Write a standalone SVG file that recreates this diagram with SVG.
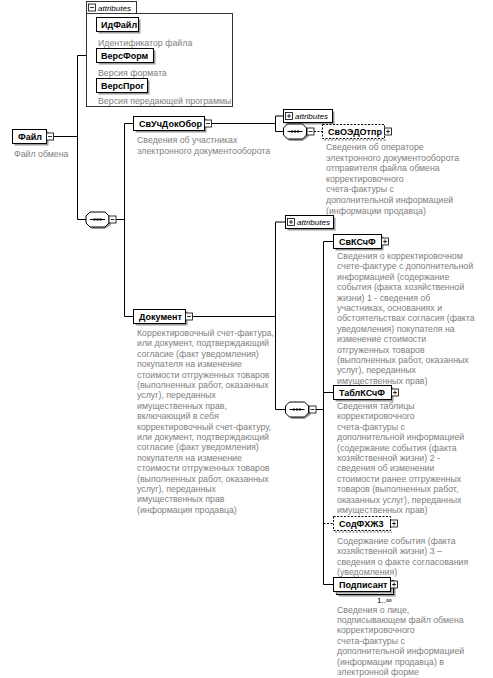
<svg xmlns="http://www.w3.org/2000/svg" xmlns:xlink="http://www.w3.org/1999/xlink" width="493" height="678" viewBox="0 0 493 678">
<style>
.bg{fill:#fff}
.box{fill:#fff;stroke:#000;stroke-width:1}
.dbox{fill:#fff;stroke:#000;stroke-width:1;stroke-dasharray:2,1.5}
.sh{fill:#9a9a9a}
.lbl{font-family:"Liberation Sans",Arial,sans-serif;font-size:9px;font-weight:bold;fill:#000}
.desc{font-family:"Liberation Sans",Arial,sans-serif;font-size:8.8px;fill:#808080}
.att{font-family:"Liberation Sans",Arial,sans-serif;font-size:8px;font-style:italic;fill:#000}
.occ{font-family:"Liberation Sans",Arial,sans-serif;font-size:8px;fill:#000}
.conn{stroke:#000;stroke-width:1;fill:none}
.dconn{stroke:#000;stroke-width:1;fill:none;stroke-dasharray:2,1.5}
.cont{fill:none;stroke:#333;stroke-width:1}
</style>
<defs>
<g id="mi"><rect x="-3.5" y="-3.5" width="7" height="7" fill="#fff" stroke="#000" stroke-width="0.8"/><line x1="-2" y1="0" x2="2" y2="0" stroke="#000" stroke-width="0.8"/></g>
<g id="pl"><rect x="-3.5" y="-3.5" width="7" height="7" fill="#fff" stroke="#000" stroke-width="0.8"/><line x1="-2" y1="0" x2="2" y2="0" stroke="#000" stroke-width="0.8"/><line x1="0" y1="-2" x2="0" y2="2" stroke="#000" stroke-width="0.8"/></g>
<g id="seq">
<path d="M6,2 L19,2 L25,6 L25,13 L19,17 L6,17 L2,13 L2,6 Z" fill="#9a9a9a"/>
<path d="M4,0 L19,0 L23,4 L23,11 L19,15 L4,15 L0,11 L0,4 Z" fill="#fff" stroke="#000" stroke-width="1"/>
<line x1="4" y1="7.5" x2="19" y2="7.5" stroke="#000" stroke-width="1"/>
<rect x="7.5" y="6.5" width="2" height="2" fill="#000"/><rect x="10.5" y="6.5" width="2" height="2" fill="#000"/><rect x="13.5" y="6.5" width="2" height="2" fill="#000"/>
</g>
</defs>
<rect class="bg" x="0" y="0" width="493" height="678"/>

<g id="connectors">
<path class="conn" d="M53.5,136.5 H77.5 M77.5,55.5 V219.5 M77.5,55.5 H86.5 M77.5,219.5 H86.5"/>
<path class="conn" d="M116,219.5 H124.5 M124.5,123.5 V316.5 M124.5,123.5 H133.5 M124.5,316.5 H133.5"/>
<path class="conn" d="M211.5,123.5 H275.5 M275.5,116 V131.5 M275.5,116 H283.5 M275.5,131.5 H283.5"/>
<path class="dconn" d="M314,131.5 H322.5"/>
<path class="conn" d="M192.5,316.5 H275.5 M275.5,222 V409.5 M275.5,222 H285.5 M275.5,409.5 H285.5"/>
<path class="conn" d="M316,409.5 H323.5 M323.5,241.5 V584.5 M323.5,241.5 H333.5 M323.5,392.5 H333.5 M323.5,584.5 H333.5"/>
<path class="dconn" d="M323.5,523.5 H333.5"/>
</g>

<g id="file">
<rect class="sh" x="14.5" y="131.5" width="34" height="14"/>
<rect class="box" x="12.5" y="129.5" width="34" height="14"/>
<text class="lbl" x="18" y="140">Файл</text>
<use xlink:href="#mi" x="50" y="136.5"/>
<text class="desc" x="14" y="157">Файл обмена</text>
</g>

<g id="attributes-file">
<rect class="cont" x="86.5" y="1.5" width="50" height="12"/>
<rect class="cont" x="86.5" y="13.5" width="146" height="93"/>
<use xlink:href="#mi" x="92" y="7.5"/>
<text class="att" x="98" y="10.5">attributes</text>
<g id="attr-idfile">
<rect class="sh" x="98.5" y="19.5" width="42" height="14"/>
<rect class="box" x="96.5" y="17.5" width="42" height="14"/>
<text class="lbl" x="101" y="28">ИдФайл</text>
<text class="desc" x="98" y="46">Идентификатор файла</text>
</g>
<g id="attr-versform">
<rect class="sh" x="98.5" y="50.5" width="57" height="14"/>
<rect class="box" x="96.5" y="48.5" width="57" height="14"/>
<text class="lbl" x="101" y="59">ВерсФорм</text>
<text class="desc" x="98" y="76">Версия формата</text>
</g>
<g id="attr-versprog">
<rect class="sh" x="98.5" y="80.5" width="51" height="14"/>
<rect class="box" x="96.5" y="78.5" width="51" height="14"/>
<text class="lbl" x="101" y="89">ВерсПрог</text>
<text class="desc" x="98" y="104">Версия передающей программы</text>
</g>
</g>

<g id="seq1"><use xlink:href="#seq" x="86" y="212"/><use xlink:href="#mi" x="112.5" y="219.5"/></g>

<g id="svuchdokobor">
<rect class="sh" x="135.5" y="118.5" width="71" height="14"/>
<rect class="box" x="133.5" y="116.5" width="71" height="14"/>
<text class="lbl" x="139" y="127">СвУчДокОбор</text>
<use xlink:href="#mi" x="208" y="123.5"/>
<text class="desc"><tspan x="137" y="143">Сведения об участниках</tspan><tspan x="137" dy="10.5">электронного документооборота</tspan></text>
</g>

<g id="attributes-svuch">
<rect class="sh" x="285.5" y="111.5" width="49" height="13"/>
<rect class="box" x="283.5" y="109.5" width="49" height="13"/>
<use xlink:href="#pl" x="289" y="116"/>
<text class="att" x="295" y="119">attributes</text>
</g>

<g id="seq2"><use xlink:href="#seq" x="283.5" y="124"/><use xlink:href="#mi" x="310.5" y="131.5"/></g>

<g id="svoedotpr">
<rect class="dbox" x="322.5" y="124.5" width="62" height="14"/>
<line x1="324" y1="140" x2="386" y2="140" stroke="#9a9a9a" stroke-width="1.5" stroke-dasharray="2,1.5"/>
<text class="lbl" x="328" y="135">СвОЭДОтпр</text>
<use xlink:href="#pl" x="388" y="131.5"/>
<text class="desc"><tspan x="326" y="150">Сведения об операторе</tspan><tspan x="326" dy="10.6">электронного документооборота</tspan><tspan x="326" dy="10.6">отправителя файла обмена</tspan><tspan x="326" dy="10.6">корректировочного</tspan><tspan x="326" dy="10.6">счета-фактуры с</tspan><tspan x="326" dy="10.6">дополнительной информацией</tspan><tspan x="326" dy="10.6">(информации продавца)</tspan></text>
</g>

<g id="dokument">
<rect class="sh" x="135.5" y="311.5" width="52" height="14"/>
<rect class="box" x="133.5" y="309.5" width="52" height="14"/>
<text class="lbl" x="139" y="320">Документ</text>
<use xlink:href="#mi" x="189" y="316.5"/>
<text class="desc"><tspan x="137" y="336">Корректировочный счет-фактура,</tspan><tspan x="137" dy="10.4">или документ, подтверждающий</tspan><tspan x="137" dy="10.4">согласие (факт уведомления)</tspan><tspan x="137" dy="10.4">покупателя на изменение</tspan><tspan x="137" dy="10.4">стоимости отгруженных товаров</tspan><tspan x="137" dy="10.4">(выполненных работ, оказанных</tspan><tspan x="137" dy="10.4">услуг), переданных</tspan><tspan x="137" dy="10.4">имущественных прав,</tspan><tspan x="137" dy="10.4">включающий в себя</tspan><tspan x="137" dy="10.4">корректировочный счет-фактуру,</tspan><tspan x="137" dy="10.4">или документ, подтверждающий</tspan><tspan x="137" dy="10.4">согласие (факт уведомления)</tspan><tspan x="137" dy="10.4">покупателя на изменение</tspan><tspan x="137" dy="10.4">стоимости отгруженных товаров</tspan><tspan x="137" dy="10.4">(выполненных работ, оказанных</tspan><tspan x="137" dy="10.4">услуг), переданных</tspan><tspan x="137" dy="10.4">имущественных прав</tspan><tspan x="137" dy="10.4">(информация продавца)</tspan></text>
</g>

<g id="attributes-dok">
<rect class="sh" x="287.5" y="217.5" width="48" height="13"/>
<rect class="box" x="285.5" y="215.5" width="48" height="13"/>
<use xlink:href="#pl" x="291" y="222"/>
<text class="att" x="297" y="225">attributes</text>
</g>

<g id="seq3"><use xlink:href="#seq" x="285.5" y="402"/><use xlink:href="#mi" x="312.5" y="409.5"/></g>

<g id="svkschf">
<rect class="sh" x="335.5" y="236.5" width="48" height="14"/>
<rect class="box" x="333.5" y="234.5" width="48" height="14"/>
<text class="lbl" x="339" y="245">СвКСчФ</text>
<use xlink:href="#pl" x="385" y="241.5"/>
<text class="desc"><tspan x="337" y="259">Сведения о корректировочном</tspan><tspan x="337" dy="10.4">счете-фактуре с дополнительной</tspan><tspan x="337" dy="10.4">информацией (содержание</tspan><tspan x="337" dy="10.4">события (факта хозяйственной</tspan><tspan x="337" dy="10.4">жизни) 1 - сведения об</tspan><tspan x="337" dy="10.4">участниках, основаниях и</tspan><tspan x="337" dy="10.4">обстоятельствах согласия (факта</tspan><tspan x="337" dy="10.4">уведомления) покупателя на</tspan><tspan x="337" dy="10.4">изменение стоимости</tspan><tspan x="337" dy="10.4">отгруженных товаров</tspan><tspan x="337" dy="10.4">(выполненных работ, оказанных</tspan><tspan x="337" dy="10.4">услуг), переданных</tspan><tspan x="337" dy="10.4">имущественных прав)</tspan></text>
</g>

<g id="tablkschf">
<rect class="sh" x="335.5" y="387.5" width="58" height="14"/>
<rect class="box" x="333.5" y="385.5" width="58" height="14"/>
<text class="lbl" x="339" y="396">ТаблКСчФ</text>
<use xlink:href="#pl" x="395" y="392.5"/>
<text class="desc"><tspan x="337" y="409">Сведения таблицы</tspan><tspan x="337" dy="10.4">корректировочного</tspan><tspan x="337" dy="10.4">счета-фактуры с</tspan><tspan x="337" dy="10.4">дополнительной информацией</tspan><tspan x="337" dy="10.4">(содержание события (факта</tspan><tspan x="337" dy="10.4">хозяйственной жизни) 2 -</tspan><tspan x="337" dy="10.4">сведения об изменении</tspan><tspan x="337" dy="10.4">стоимости ранее отгруженных</tspan><tspan x="337" dy="10.4">товаров (выполненных работ,</tspan><tspan x="337" dy="10.4">оказанных услуг), переданных</tspan><tspan x="337" dy="10.4">имущественных прав)</tspan></text>
</g>

<g id="sodfhzh3">
<rect class="dbox" x="333.5" y="516.5" width="57" height="14"/>
<line x1="335" y1="532" x2="392" y2="532" stroke="#9a9a9a" stroke-width="1.5" stroke-dasharray="2,1.5"/>
<text class="lbl" x="339" y="527">СодФХЖ3</text>
<use xlink:href="#pl" x="394" y="523.5"/>
<text class="desc"><tspan x="337" y="544">Содержание события (факта</tspan><tspan x="337" dy="10.4">хозяйственной жизни) 3 –</tspan><tspan x="337" dy="10.4">сведения о факте согласования</tspan><tspan x="337" dy="10.4">(уведомления)</tspan></text>
</g>

<g id="podpisant">
<rect class="sh" x="338.5" y="582.5" width="57" height="14"/>
<rect class="box" x="336.5" y="580.5" width="57" height="14"/>
<rect class="sh" x="335.5" y="579.5" width="57" height="14"/>
<rect class="box" x="333.5" y="577.5" width="57" height="14"/>
<text class="lbl" x="339" y="588">Подписант</text>
<use xlink:href="#pl" x="394" y="584.5"/>
<text class="occ" x="377" y="603">1..∞</text>
<text class="desc"><tspan x="337" y="612.5">Сведения о лице,</tspan><tspan x="337" dy="10.4">подписывающем файл обмена</tspan><tspan x="337" dy="10.4">корректировочного</tspan><tspan x="337" dy="10.4">счета-фактуры с</tspan><tspan x="337" dy="10.4">дополнительной информацией</tspan><tspan x="337" dy="10.4">(информации продавца) в</tspan><tspan x="337" dy="10.4">электронной форме</tspan></text>
</g>
</svg>
